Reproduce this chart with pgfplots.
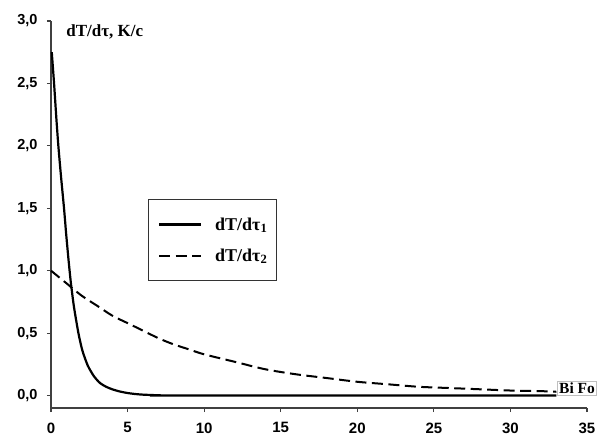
\documentclass[border=0pt]{standalone}
\usepackage{fontspec}
\setmainfont{Liberation Serif}
\newfontfamily\tickfont{Liberation Sans}
\usepackage{pgfplots}
\pgfplotsset{compat=1.18}

% cooling-rate curves dT/dtau versus the Bi*Fo product
\begin{document}
\begin{tikzpicture}
\path[use as bounding box] (-51pt,-29pt) rectangle (560pt,408pt);
\begin{axis}[
  at={(0pt,0pt)}, anchor=south west,
  scale only axis, width=536pt, height=387pt,
  xmin=0, xmax=35, ymin=-0.1, ymax=3.0,
  axis x line*=bottom, axis y line*=left,
  axis line style={black!75, line width=1.1pt, -},
  tick align=outside, major tick length=4pt,
  tick style={black!75, line width=1.1pt},
  xtick={0,5,10,15,20,25,30,35},
  ytick={0,0.5,1,1.5,2,2.5,3},
  /pgf/number format/assume math mode=true,
  xticklabel style={font=\tickfont\bfseries\fontsize{15}{16}\selectfont, yshift=-7pt},
  yticklabel style={font=\tickfont\bfseries\fontsize{14.5}{15}\selectfont, xshift=-6pt,
    /pgf/number format/.cd, use comma, fixed, fixed zerofill, precision=1},
  clip=false,
  legend style={at={(0.181,0.540)}, anchor=north west, draw=black!80, line width=1pt,
    font=\bfseries\fontsize{18}{19}\selectfont, inner xsep=9.5pt, inner ysep=18pt,
    nodes={inner sep=0pt}, column sep=13pt, row sep=17pt, cells={anchor=west}},
  legend image code/.code={\draw[#1] (0pt,0pt) -- (42pt,0pt);},
]
\addplot[black, line width=2.2pt, smooth, tension=0.4] coordinates {
  (0.05,2.75) (0.20,2.50) (0.35,2.22) (0.48,2.00) (0.65,1.76) (0.85,1.50)
  (1.00,1.28) (1.15,1.08) (1.30,0.90) (1.50,0.71) (1.79,0.50) (2.05,0.36)
  (2.40,0.24) (2.80,0.155) (3.20,0.10) (3.60,0.07) (4.00,0.05) (4.50,0.032)
  (5.00,0.02) (5.50,0.012) (6.00,0.007) (7.00,0.002) (8.00,0.0) (33.0,0.0)
};
\addlegendentry{dT/dτ\textsubscript{1}}
\addplot[black, line width=2pt, dash pattern=on 11pt off 5.5pt, smooth] coordinates {
  (0,1.00) (1,0.90) (2,0.80) (3,0.72) (4,0.64) (5,0.58) (6,0.52) (7,0.46)
  (8,0.41) (9,0.37) (10,0.33) (12,0.27) (14,0.21) (16,0.17) (18,0.14)
  (20,0.11) (22,0.09) (24,0.07) (26,0.06) (28,0.05) (30,0.04) (32,0.035) (33,0.03)
};
\addlegendentry{dT/dτ\textsubscript{2}}
\node[anchor=west, font=\bfseries\fontsize{17}{18}\selectfont] at (rel axis cs:0.022,0.972) {dT/dτ, K/c};
\node[draw=black!25, line width=0.6pt, inner sep=1.5pt, font=\bfseries\fontsize{15.5}{16}\selectfont] at (axis cs:34.35,0.06) {Bi Fo};
\end{axis}
\end{tikzpicture}
\end{document}
